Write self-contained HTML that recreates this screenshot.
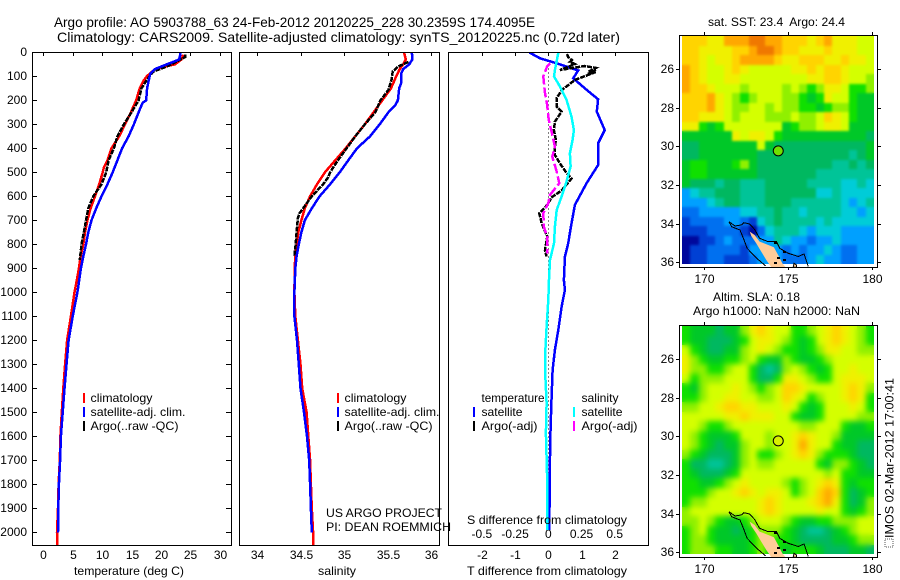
<!DOCTYPE html>
<html>
<head>
<meta charset="utf-8">
<title>Argo profile</title>
<style>
html,body{margin:0;padding:0;background:#fff;}
svg{display:block;}
text{font-family:"Liberation Sans",sans-serif;font-size:12px;fill:#000;white-space:pre;}
</style>
</head>
<body>
<svg id="fig" xmlns="http://www.w3.org/2000/svg" width="900" height="580" viewBox="0 0 900 580">
<defs>
<clipPath id="clip-t"><rect x="32" y="52" width="200" height="494"/></clipPath>
<clipPath id="clip-s"><rect x="239" y="52" width="201" height="494"/></clipPath>
<clipPath id="clip-d"><rect x="448" y="52" width="201" height="494"/></clipPath>
<clipPath id="clip-m1"><rect x="680" y="36" width="197" height="231"/></clipPath>
<clipPath id="clip-m2"><rect x="680" y="326" width="197" height="231"/></clipPath>
<clipPath id="field-m1"><rect x="682" y="36" width="192" height="228"/></clipPath>
<clipPath id="field-m2"><rect x="682" y="326" width="192" height="228"/></clipPath>
<filter id="soft-sst" color-interpolation-filters="sRGB"><feGaussianBlur stdDeviation="1.3"/></filter>
<filter id="soft-sla" color-interpolation-filters="sRGB"><feGaussianBlur stdDeviation="2.8"/></filter>
</defs>
<text x="54" y="27" style="font-size:14px" textLength="481" lengthAdjust="spacingAndGlyphs">Argo profile: AO 5903788_63 24-Feb-2012 20120225_228 30.2359S 174.4095E</text>
<text x="57" y="42" style="font-size:14px" textLength="563" lengthAdjust="spacingAndGlyphs">Climatology: CARS2009. Satellite-adjusted climatology: synTS_20120225.nc (0.72d later)</text>

<g id="panel-t"></g>
<g id="panel-s"></g>
<g id="panel-d"></g>
<g id="map-1"></g>
<g id="map-2"></g>

<rect x="32.5" y="52.5" width="199" height="493" fill="none" stroke="#000" shape-rendering="crispEdges"/>
<rect x="239.5" y="52.5" width="200" height="493" fill="none" stroke="#000" shape-rendering="crispEdges"/>
<rect x="448.5" y="52.5" width="200" height="493" fill="none" stroke="#000" shape-rendering="crispEdges"/>
<rect x="679.5" y="35.5" width="198" height="232" fill="none" stroke="#000" shape-rendering="crispEdges"/>
<rect x="679.5" y="325.5" width="198" height="232" fill="none" stroke="#000" shape-rendering="crispEdges"/>

<text x="74" y="575" textLength="110" lengthAdjust="spacingAndGlyphs">temperature (deg C)</text>
<text x="318" y="575" textLength="38" lengthAdjust="spacingAndGlyphs">salinity</text>
<text x="467" y="575" textLength="160" lengthAdjust="spacingAndGlyphs">T difference from climatology</text>
<text x="467" y="524" textLength="160" lengthAdjust="spacingAndGlyphs">S difference from climatology</text>

<g>
<rect x="83" y="393" width="2" height="10" fill="#f00"/>
<text x="90.5" y="402" textLength="62" lengthAdjust="spacingAndGlyphs">climatology</text>
<rect x="83" y="407" width="2" height="10" fill="#00f"/>
<text x="90.5" y="416" textLength="95" lengthAdjust="spacingAndGlyphs">satellite-adj. clim.</text>
<rect x="83" y="421" width="2" height="10" fill="#000"/>
<text x="90.5" y="430" textLength="88" lengthAdjust="spacingAndGlyphs">Argo(..raw -QC)</text>
</g>
<g>
<rect x="337" y="393" width="2" height="10" fill="#f00"/>
<text x="344.5" y="402" textLength="62" lengthAdjust="spacingAndGlyphs">climatology</text>
<rect x="337" y="407" width="2" height="10" fill="#00f"/>
<text x="344.5" y="416" textLength="95" lengthAdjust="spacingAndGlyphs">satellite-adj. clim.</text>
<rect x="337" y="421" width="2" height="10" fill="#000"/>
<text x="344.5" y="430" textLength="88" lengthAdjust="spacingAndGlyphs">Argo(..raw -QC)</text>
</g>
<g>
<text x="481.5" y="402" textLength="63" lengthAdjust="spacingAndGlyphs">temperature</text>
<rect x="473" y="407" width="2" height="10" fill="#00f"/>
<text x="481.5" y="416" textLength="41" lengthAdjust="spacingAndGlyphs">satellite</text>
<rect x="473" y="421" width="2" height="10" fill="#000"/>
<text x="481.5" y="430" textLength="56" lengthAdjust="spacingAndGlyphs">Argo(-adj)</text>
<text x="581.5" y="402" textLength="37" lengthAdjust="spacingAndGlyphs">salinity</text>
<rect x="573" y="407" width="2" height="10" fill="#0ff"/>
<text x="581.5" y="416" textLength="41" lengthAdjust="spacingAndGlyphs">satellite</text>
<rect x="573" y="421" width="2" height="10" fill="#f0f"/>
<text x="581.5" y="430" textLength="56" lengthAdjust="spacingAndGlyphs">Argo(-adj)</text>
</g>
<text x="326" y="517" textLength="116" lengthAdjust="spacingAndGlyphs">US ARGO PROJECT</text>
<text x="326" y="531" textLength="125" lengthAdjust="spacingAndGlyphs">PI: DEAN ROEMMICH</text>

<text x="708" y="26" textLength="137" lengthAdjust="spacingAndGlyphs">sat. SST: 23.4  Argo: 24.4</text>
<text x="713" y="301" textLength="87" lengthAdjust="spacingAndGlyphs">Altim. SLA: 0.18</text>
<text x="693" y="315" textLength="167" lengthAdjust="spacingAndGlyphs">Argo h1000: NaN h2000: NaN</text>

<g>
<rect x="885" y="539" width="8" height="8" fill="#fff" stroke="#555" stroke-dasharray="1 1" shape-rendering="crispEdges"/>
<text transform="translate(893.5,538) rotate(-90)" textLength="160" lengthAdjust="spacingAndGlyphs">IMOS 02-Mar-2012 17:00:41</text>
</g>
</svg>

<script>
/* ---------- tick values ---------- */
const depthTicks = [0,100,200,300,400,500,600,700,800,900,1000,1100,1200,1300,1400,1500,1600,1700,1800,1900,2000];
const tempTicks = [0,5,10,15,20,25,30];
const salTicks = [34,34.5,35,35.5,36];
const salTickLabels = ['34','34.5','35','35.5','36'];
const tDiffTicks = [-2,-1,0,1,2];
const sDiffTicks = [-0.5,-0.25,0,0.25,0.5];
const sDiffTickLabels = ['-0.5','-0.25','0','0.25','0.5'];
const lonTicks = [170,175,180];
const latTicks = [26,28,30,32,34,36];

/* ---------- temperature profiles ---------- */
const climTempDepth = [10,30,50,70,100,120,150,200,250,300,350,400,450,480,500,550,600,650,700,750,800,850,900,950,1000,1100,1200,1300,1400,1500,1600,1700,1800,1900,2000,2055];
const climTemp = [23.8,23.5,22.4,19.0,17.6,17.0,16.4,15.8,14.9,13.9,12.9,11.6,10.9,10.3,10.1,9.5,8.8,8.05,7.5,7.1,6.8,6.35,6.05,5.7,5.3,4.7,4.05,3.7,3.4,3.15,2.9,2.8,2.6,2.5,2.33,2.33];
const satTempDepth = [0,10,30,40,50,70,90,110,150,200,210,250,300,350,400,450,500,550,600,650,700,750,800,850,900,950,1000,1100,1200,1300,1400,1500,1600,1700,1800,1900,2000];
const satTemp = [23.3,23.3,23.1,22.1,21.0,19.0,18.2,18.0,17.65,17.5,16.9,16.2,15.4,14.5,13.4,12.6,11.8,10.9,9.9,9.0,8.2,7.65,7.26,6.8,6.4,6.1,5.8,5.0,4.3,3.95,3.6,3.3,3.0,2.85,2.65,2.55,2.5];
const argoTempDepth = [10,20,30,50,65,80,115,150,200,250,300,350,400,450,500,550,600,650,700,750,800,865];
const argoTemp = [24.1,24.1,23.3,21.8,20.4,18.7,17.6,16.7,16.2,15.0,13.7,12.6,12.0,11.1,10.7,9.9,8.5,7.65,7.26,6.9,6.5,6.2];

/* ---------- salinity profiles ---------- */
const climSalDepth = [0,30,50,70,100,150,200,250,300,350,400,450,500,550,600,650,700,750,800,850,900,1000,1100,1200,1300,1400,1500,1600,1700,1800,1900,2000,2055];
const climSal = [35.69,35.71,35.68,35.64,35.6,35.54,35.44,35.34,35.24,35.13,35.02,34.9,34.78,34.69,34.61,34.55,34.51,34.475,34.455,34.44,34.433,34.43,34.44,34.47,34.5,34.52,34.57,34.59,34.61,34.62,34.63,34.645,34.645];
const satSalDepth = [0,30,50,70,90,130,150,200,220,250,300,350,400,450,500,550,600,650,700,750,800,850,900,1000,1100,1200,1300,1400,1500,1600,1700,1800,1900,2000];
const satSal = [35.78,35.785,35.75,35.68,35.655,35.655,35.635,35.62,35.59,35.51,35.41,35.3,35.15,35.05,34.95,34.84,34.72,34.63,34.55,34.51,34.48,34.455,34.44,34.43,34.43,34.46,34.48,34.5,34.54,34.575,34.6,34.61,34.62,34.63];
const argoSalDepth = [40,60,80,110,157,200,250,300,350,400,450,500,520,550,600,650,670,690,750,800,850];
const argoSal = [35.74,35.62,35.56,35.55,35.51,35.42,35.36,35.24,35.13,35.03,34.93,34.84,34.82,34.76,34.63,34.53,34.49,34.47,34.455,34.445,34.43];

/* ---------- differences from climatology ---------- */
const satTDiffDepth = [1,25,46,76,108,150,196,247,324,379,470,546,636,727,796,852,949,991,1060,1157,1240,1324,1435,1560,1685,1990];
const satTDiff = [-0.57,-0.25,0.25,0.9,0.75,1.1,1.5,1.46,1.7,1.5,1.5,1.15,0.8,0.68,0.6,0.5,0.47,0.5,0.4,0.3,0.2,0.13,0.1,0.07,0.05,0.03];
const argoTDiffDepth = [7,20,32,40,49,74,57,65,82,72,90,82,115,157,191,226,247,289,324,365,393,428,463,503,526,576,604,636,671,713,768,824,851];
const argoTDiff = [0.56,0.6,0.71,0.65,0.8,0.35,1.1,1.43,1.2,1.43,1.2,1.43,0.8,0.41,0.25,0.25,0.4,0.2,0.17,0.23,0.2,0.2,0.35,0.55,0.7,0.4,0.1,-0.03,-0.27,-0.2,-0.03,-0.1,-0.05];
const satSDiffDepth = [2,74,101,143,199,268,324,365,421,476,546,601,657,727,796,865,948,1032,1143,1254,1337,1462,1587,1782,1990];
const satSDiff = [0.075,0.05,0.043,0.088,0.138,0.175,0.193,0.183,0.163,0.168,0.133,0.1,0.063,0.05,0.043,0.013,0.005,0,-0.013,-0.023,-0.023,-0.013,-0.018,-0.008,-0.008];
const argoSDiffDepth = [46,60,101,170,219,268,296,331,393,435,497,546,594,629,671,727,768,838];
const argoSDiff = [0.013,-0.01,-0.038,-0.025,-0.008,0,0.008,0.025,0.05,0.03,0.063,0.083,0.013,0,-0.038,-0.033,-0.008,-0.008];

/* ---------- map fields (colour level per 0.5 degree cell) ---------- */
const sstLevels = [
[12,12,12,11,11,13,13,13,14,14,13,13,12,12,12,11,12,13,11,11,11,10,10],
[12,12,11,11,11,11,12,12,13,14,14,13,12,12,11,11,11,12,11,11,11,10,10],
[12,12,11,10,11,11,12,13,13,13,13,12,11,11,12,12,12,11,11,12,11,11,10],
[13,12,11,10,10,11,12,11,10,10,10,10,10,11,11,12,11,12,12,11,10,10,10],
[13,12,11,10,10,11,11,10,10,10,10,10,10,10,10,11,11,12,12,11,10,10,9],
[13,12,12,11,10,10,10,9,10,10,10,10,9,10,9,8,9,11,11,10,8,8,9],
[12,12,12,13,11,10,9,8,9,10,10,10,9,9,8,7,8,11,10,10,8,7,7],
[12,12,12,13,11,10,9,9,10,10,9,10,9,9,8,8,7,8,9,9,8,7,7],
[12,12,11,11,11,10,9,10,10,10,9,9,9,10,9,9,10,12,11,10,8,7,7],
[11,11,8,7,8,10,10,10,10,10,10,10,7,8,9,9,10,11,11,10,7,7,7],
[7,7,7,7,7,7,11,10,11,11,10,8,7,7,7,7,7,7,7,7,7,7,6],
[6,6,7,7,7,7,7,7,7,10,7,6,6,6,6,6,6,6,6,6,6,6,7],
[6,6,7,7,7,7,7,7,7,6,6,6,6,6,6,6,6,6,6,6,5,6,7],
[7,8,8,7,7,7,8,9,7,6,6,6,6,6,6,6,6,6,5,5,6,5,6],
[7,8,8,7,7,7,7,7,7,6,6,6,6,6,6,6,5,5,5,5,5,5,5],
[7,6,6,6,5,6,6,5,5,5,6,6,6,6,6,5,5,5,5,4,4,5,4],
[3,4,5,5,6,6,6,5,5,5,6,6,6,6,6,6,4,4,5,4,4,4,4],
[3,3,3,4,5,6,6,5,5,5,6,6,6,5,5,5,5,5,5,4,3,4,5],
[2,2,3,3,3,3,3,4,4,5,5,6,5,5,4,5,5,5,5,4,4,3,4],
[1,2,2,2,2,3,3,2,1,4,5,6,5,5,5,5,4,5,4,4,4,4,4],
[1,1,1,2,2,2,2,1,0,2,4,5,5,5,4,3,4,4,4,3,3,3,3],
[0,0,1,1,2,3,2,2,2,3,3,5,4,3,3,2,3,3,4,3,3,3,3],
[0,1,1,2,2,2,2,1,3,3,3,3,2,3,2,3,3,4,3,2,2,3,3],
[0,1,1,2,2,1,1,1,2,3,3,3,2,2,2,3,4,3,3,2,2,3,3]
];
const slaLevels = [
[8,7,7,7,6,7,7,9,11,12,11,10,10,8,8,9,10,11,12,11,10,9,8],
[8,7,7,6,6,6,7,8,10,11,11,10,9,8,7,8,10,11,12,11,10,9,8],
[10,8,7,6,6,7,7,9,10,11,10,9,8,8,7,8,9,11,11,10,10,9,9],
[11,9,8,7,7,8,8,9,10,8,7,7,9,8,7,7,8,9,10,10,10,10,10],
[11,9,9,8,8,9,10,10,8,6,5,6,9,10,9,8,7,8,10,10,11,10,10],
[10,8,9,9,9,10,10,10,8,6,6,8,11,11,10,9,8,8,10,11,11,11,10],
[8,7,9,10,10,10,11,10,9,8,9,10,12,12,11,10,10,10,10,11,12,11,9],
[8,8,9,10,10,11,11,10,10,9,9,10,12,11,10,8,9,10,10,11,12,11,8],
[9,9,10,10,11,12,12,11,11,10,10,10,11,10,8,7,8,10,10,10,11,10,8],
[10,10,10,10,10,11,11,12,11,11,11,10,10,8,7,7,8,10,10,10,10,9,9],
[10,10,9,8,8,9,10,10,10,10,10,10,10,10,9,9,10,10,10,8,7,7,8],
[10,9,8,7,7,7,8,10,10,10,9,10,10,11,12,11,10,10,9,7,7,7,7],
[10,9,8,7,6,7,7,9,10,10,9,10,10,11,13,11,10,10,8,7,7,6,6],
[9,8,7,6,6,6,7,9,10,8,8,9,10,11,12,11,9,8,8,8,7,6,6],
[8,6,6,5,5,6,7,9,10,9,9,10,10,10,10,10,8,7,9,9,8,7,6],
[8,7,6,6,6,7,8,10,10,10,10,10,10,10,10,10,10,9,10,8,8,7,7],
[8,8,7,7,8,9,10,11,10,10,10,10,9,8,9,10,11,12,11,8,7,8,8],
[8,8,8,9,10,10,11,12,11,10,11,11,10,8,9,10,12,13,12,8,6,7,8],
[8,9,9,10,10,10,10,10,10,11,12,11,10,10,10,11,12,13,11,8,6,7,9],
[9,10,10,10,10,10,10,10,10,11,12,11,10,10,10,10,11,10,10,8,7,8,9],
[9,9,10,9,8,7,7,8,9,10,10,10,9,8,7,7,8,8,9,9,9,10,10],
[8,9,10,8,7,7,6,7,8,9,9,9,8,7,6,5,5,6,7,8,9,10,10],
[8,9,9,8,7,7,7,7,8,9,9,8,8,7,6,6,6,6,7,7,8,9,9],
[8,9,9,9,8,8,7,7,8,9,8,8,7,8,8,8,7,6,6,6,7,7,6]
];
const levelColors = ['#00089c','#0040d4','#0070f0','#00a0ff','#00ccd8','#00c498','#00b860','#00c828','#10e000','#90f000','#d4ff00','#f0f000','#ffd400','#ffa800','#f07800'];

/* ---------- land, coast and float position ---------- */
const landLon = [172.71,173.0,173.3,174.15,174.45,174.65,174.85,174.0,173.7,173.4,173.1,172.8];
const landLat = [34.41,34.59,34.93,35.22,35.7,36.05,36.26,36.26,35.88,35.45,35.02,34.64];
const islandLon = [175.3,175.35,175.5,175.5];
const islandLat = [36.26,36.05,36.14,36.26];
const coastLowerLon = [171.47,171.63,172.13,172.33,172.56,173.12,173.67];
const coastLowerLat = [33.9,34.16,34.33,34.76,35.28,35.79,36.19];
const coastUpperLon = [171.47,171.83,172.2,172.36,172.7,173.0,173.3,173.8,174.3,174.5,175,175.6,175.95,176.2];
const coastUpperLat = [33.9,34.12,34.07,33.95,34.02,34.3,34.76,34.93,34.93,35.28,35.53,35.7,35.57,36.22];
const speckLon = [174.2,174.41,174.2,174.75,174.75];
const speckLat = [34.98,35.8,36.05,35.45,35.88];
const floatLon = 174.4095;
const floatLat = 30.2359;

/* ---------- axis functions ---------- */
function depthY(d){ return 52.3 + d * 0.24; }
function tempX(t){ return 43.3 + t * 5.88; }
function salX(s){ return 257 + (s - 34) * 87; }
function tDiffX(t){ return 548.3 + t * 33.2; }
function sDiffX(s){ return tDiffX(s * 4); }
function lonX(lon){ return 704.3 + (lon - 170) * 16.77; }
function latY(lat, base){ return base + (lat - 26) * 19.33; }

const SVGNS = 'http://www.w3.org/2000/svg';

function addSeries(parent, name, xs, ds, xFn, color, clip, dash){
  const el = document.createElementNS(SVGNS, 'polyline');
  
  
  el.setAttribute('points', xs.map(function(v, i){ return xFn(v).toFixed(1) + ',' + depthY(ds[i]).toFixed(1); }).join(' '));
  el.setAttribute('fill', 'none');
  el.setAttribute('stroke', color);
  el.setAttribute('stroke-width', '2.5');
  el.setAttribute('clip-path', 'url(#' + clip + ')');
  el.setAttribute('shape-rendering', 'crispEdges');
  if (dash) el.setAttribute('stroke-dasharray', dash);
  parent.appendChild(el);
}

function addTick(parent, x1, y1, x2, y2){
  const el = document.createElementNS(SVGNS, 'line');
  
  
  el.setAttribute('x1', x1);
  el.setAttribute('y1', y1);
  el.setAttribute('x2', x2);
  el.setAttribute('y2', y2);
  el.setAttribute('stroke', '#000');
  el.setAttribute('shape-rendering', 'crispEdges');
  parent.appendChild(el);
}

function addLabel(parent, str, x, y, anchor){
  const el = document.createElementNS(SVGNS, 'text');
  
  
  el.setAttribute('x', x);
  el.setAttribute('y', y);
  el.setAttribute('text-anchor', anchor);
  el.textContent = str;
  parent.appendChild(el);
}

/* ---------- temperature panel ---------- */
const panelT = document.getElementById('panel-t');
depthTicks.forEach(function(d){
  const y = Math.round(depthY(d)) + 0.5;
  addTick(panelT, 32, y, 37, y);
  addTick(panelT, 226, y, 231, y);
  addLabel(panelT, String(d), 27, y + 3.5, 'end');
});
tempTicks.forEach(function(t){
  const x = Math.round(tempX(t)) + 0.5;
  addTick(panelT, x, 52, x, 56);
  addLabel(panelT, String(t), x, 559, 'middle');
});
addSeries(panelT, 'climatology-temperature-line', climTemp, climTempDepth, tempX, '#f00', 'clip-t');
addSeries(panelT, 'argo-temperature-line', argoTemp, argoTempDepth, tempX, '#000', 'clip-t', '5 1');
addSeries(panelT, 'satellite-temperature-line', satTemp, satTempDepth, tempX, '#00f', 'clip-t');

/* ---------- salinity panel ---------- */
const panelS = document.getElementById('panel-s');
salTicks.forEach(function(s, i){
  const x = Math.round(salX(s)) + 0.5;
  addTick(panelS, x, 52, x, 56);
  addLabel(panelS, salTickLabels[i], x, 559, 'middle');
});
addSeries(panelS, 'climatology-salinity-line', climSal, climSalDepth, salX, '#f00', 'clip-s');
addSeries(panelS, 'argo-salinity-line', argoSal, argoSalDepth, salX, '#000', 'clip-s', '5 1');
addSeries(panelS, 'satellite-salinity-line', satSal, satSalDepth, salX, '#00f', 'clip-s');

/* ---------- difference panel ---------- */
const panelD = document.getElementById('panel-d');
tDiffTicks.forEach(function(t){
  const x = Math.round(tDiffX(t)) + 0.5;
  addTick(panelD, x, 52, x, 56);
  addLabel(panelD, String(t), x, 559, 'middle');
});
sDiffTicks.forEach(function(s, i){
  addLabel(panelD, sDiffTickLabels[i], sDiffX(s), 538, 'middle');
});
const zeroLine = document.createElementNS(SVGNS, 'line');


zeroLine.setAttribute('x1', tDiffX(0));
zeroLine.setAttribute('x2', tDiffX(0));
zeroLine.setAttribute('y1', depthY(50));
zeroLine.setAttribute('y2', depthY(2000));
zeroLine.setAttribute('stroke', '#000');
zeroLine.setAttribute('stroke-dasharray', '1 3');
zeroLine.setAttribute('shape-rendering', 'crispEdges');
panelD.appendChild(zeroLine);
addSeries(panelD, 'satellite-t-difference-line', satTDiff, satTDiffDepth, tDiffX, '#00f', 'clip-d');
addSeries(panelD, 'argo-t-difference-line', argoTDiff, argoTDiffDepth, tDiffX, '#000', 'clip-d', '5 1');
addSeries(panelD, 'satellite-s-difference-line', satSDiff, satSDiffDepth, sDiffX, '#0ff', 'clip-d');
addSeries(panelD, 'argo-s-difference-line', argoSDiff, argoSDiffDepth, sDiffX, '#f0f', 'clip-d', '10 3');

/* ---------- maps ---------- */
const mapLonStart = 168.67;
const mapLonStep = 0.4978;
const mapLatStart = 24.3;
const mapLatStep = 0.4915;

function polyPoints(lons, lats, base){
  return lons.map(function(v, i){ return lonX(v).toFixed(1) + ',' + latY(lats[i], base).toFixed(1); }).join(' ');
}

function drawMap(groupId, levels, base, frameTop, clip, fieldClip, softFilter, markerFill){
  const g = document.getElementById(groupId);
  const cellsId = groupId + '-cells';
  const cells = document.createElementNS(SVGNS, 'g');
  cells.setAttribute('id', cellsId);
  
  
  g.appendChild(cells);
  levels.forEach(function(row, r){
    row.forEach(function(level, c){
      const x0 = Math.round(lonX(mapLonStart + c * mapLonStep));
      const x1 = Math.round(lonX(mapLonStart + (c + 1) * mapLonStep));
      const y0 = Math.round(latY(mapLatStart + r * mapLatStep, base));
      const y1 = Math.round(latY(mapLatStart + (r + 1) * mapLatStep, base));
      const cell = document.createElementNS(SVGNS, 'rect');
      
      
      cell.setAttribute('x', x0);
      cell.setAttribute('y', y0);
      cell.setAttribute('width', x1 - x0);
      cell.setAttribute('height', y1 - y0);
      cell.setAttribute('fill', levelColors[level]);
      cell.setAttribute('shape-rendering', 'crispEdges');
      cells.appendChild(cell);
    });
  });

  const softWrap = document.createElementNS(SVGNS, 'g');
  
  
  softWrap.setAttribute('clip-path', 'url(#' + fieldClip + ')');
  const soft = document.createElementNS(SVGNS, 'use');
  soft.setAttribute('href', '#' + cellsId);
  soft.setAttribute('filter', 'url(#' + softFilter + ')');
  softWrap.appendChild(soft);
  g.appendChild(softWrap);

  const land = document.createElementNS(SVGNS, 'polygon');
  
  
  land.setAttribute('points', polyPoints(landLon, landLat, base));
  land.setAttribute('fill', '#ffcc99');
  land.setAttribute('clip-path', 'url(#' + clip + ')');
  g.appendChild(land);

  const island = document.createElementNS(SVGNS, 'polygon');
  
  
  island.setAttribute('points', polyPoints(islandLon, islandLat, base));
  island.setAttribute('fill', '#ffcc99');
  island.setAttribute('stroke', '#000');
  island.setAttribute('clip-path', 'url(#' + clip + ')');
  g.appendChild(island);

  const coastLower = document.createElementNS(SVGNS, 'polyline');
  
  
  coastLower.setAttribute('points', polyPoints(coastLowerLon, coastLowerLat, base));
  coastLower.setAttribute('fill', 'none');
  coastLower.setAttribute('stroke', '#000');
  coastLower.setAttribute('shape-rendering', 'crispEdges');
  coastLower.setAttribute('clip-path', 'url(#' + clip + ')');
  g.appendChild(coastLower);

  const coastUpper = document.createElementNS(SVGNS, 'polyline');
  
  
  coastUpper.setAttribute('points', polyPoints(coastUpperLon, coastUpperLat, base));
  coastUpper.setAttribute('fill', 'none');
  coastUpper.setAttribute('stroke', '#000');
  coastUpper.setAttribute('shape-rendering', 'crispEdges');
  coastUpper.setAttribute('clip-path', 'url(#' + clip + ')');
  g.appendChild(coastUpper);

  speckLon.forEach(function(lon, i){
    const speck = document.createElementNS(SVGNS, 'rect');
    
    
    speck.setAttribute('x', Math.round(lonX(lon)) - 1);
    speck.setAttribute('y', Math.round(latY(speckLat[i], base)) - 1);
    speck.setAttribute('width', '3');
    speck.setAttribute('height', '2');
    speck.setAttribute('fill', '#000');
    g.appendChild(speck);
  });

  const marker = document.createElementNS(SVGNS, 'circle');
  
  
  marker.setAttribute('cx', lonX(floatLon));
  marker.setAttribute('cy', latY(floatLat, base));
  marker.setAttribute('r', '5');
  marker.setAttribute('fill', markerFill);
  marker.setAttribute('stroke', '#000');
  g.appendChild(marker);

  const labelY = frameTop + 248;
  lonTicks.forEach(function(lon){
    const x = Math.round(lonX(lon)) + 0.5;
    addTick(g, x, frameTop - 3, x, frameTop);
    addTick(g, x, frameTop + 232, x, frameTop + 235);
    addLabel(g, String(lon), x, labelY, 'middle');
  });
  latTicks.forEach(function(lat){
    const y = Math.round(latY(lat, base)) + 0.5;
    addTick(g, 676, y, 679, y);
    addTick(g, 878, y, 881, y);
    addLabel(g, String(lat), 674, y + 3.5, 'end');
  });
}

drawMap('map-1', sstLevels, 69, 35, 'clip-m1', 'field-m1', 'soft-sst', '#70e000');
drawMap('map-2', slaLevels, 359, 325, 'clip-m2', 'field-m2', 'soft-sla', '#d8f000');
</script>
</body>
</html>
